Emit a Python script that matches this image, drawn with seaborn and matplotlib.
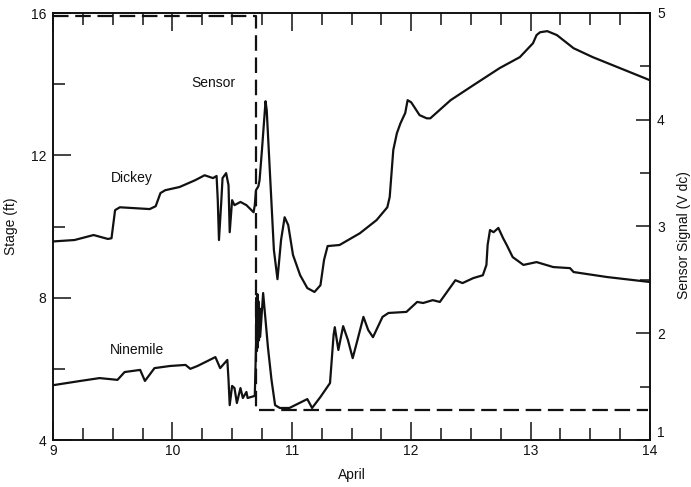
import matplotlib
matplotlib.use("Agg")
import matplotlib.pyplot as plt
import seaborn as sns
import pandas as pd
from matplotlib.ticker import MultipleLocator

sns.set_style("ticks")
plt.rcParams['font.family'] = ['Liberation Sans', 'DejaVu Sans']

# ---- data ----
dickey_day = [9.00, 9.18, 9.34, 9.46, 9.49, 9.52, 9.56, 9.81, 9.86, 9.90, 9.94, 10.06, 10.19,
              10.27, 10.34, 10.37, 10.38, 10.39, 10.41, 10.42, 10.45, 10.47, 10.48, 10.50, 10.52,
              10.57, 10.62, 10.68, 10.69, 10.70, 10.72, 10.73, 10.75, 10.78, 10.79, 10.82, 10.85,
              10.88, 10.91, 10.94, 10.97, 11.01, 11.07, 11.13, 11.19, 11.24, 11.27, 11.30, 11.40,
              11.57, 11.71, 11.80, 11.82, 11.85, 11.88, 11.91, 11.95, 11.97, 12.00, 12.07, 12.13,
              12.16, 12.33, 12.52, 12.74, 12.91, 13.02, 13.05, 13.08, 13.14, 13.22, 13.36, 13.52,
              14.00]
dickey_stage = [9.58, 9.62, 9.76, 9.65, 9.67, 10.46, 10.54, 10.49, 10.57, 10.94, 11.02, 11.11, 11.30,
                11.44, 11.36, 11.42, 10.74, 9.62, 10.74, 11.36, 11.50, 11.16, 9.84, 10.74, 10.60,
                10.69, 10.60, 10.40, 10.60, 11.02, 11.13, 11.30, 12.15, 13.52, 13.27, 11.30, 9.34,
                8.52, 9.62, 10.26, 10.04, 9.20, 8.63, 8.27, 8.16, 8.35, 9.06, 9.45, 9.48,
                9.81, 10.18, 10.54, 10.83, 12.15, 12.62, 12.90, 13.19, 13.55, 13.49, 13.13, 13.04,
                13.04, 13.55, 13.97, 14.45, 14.76, 15.15, 15.38, 15.46, 15.49, 15.38, 15.01, 14.76,
                14.11]

ninemile_day = [9.00, 9.23, 9.39, 9.54, 9.60, 9.73, 9.77, 9.85, 9.98, 10.11, 10.15, 10.21, 10.36,
                10.40, 10.46, 10.47, 10.48, 10.50, 10.52, 10.54, 10.57, 10.59, 10.62, 10.63, 10.69,
                10.700, 10.704, 10.708, 10.712, 10.716, 10.720, 10.725, 10.730, 10.735, 10.76, 10.80,
                10.83, 10.86, 10.90, 10.98, 11.13, 11.17, 11.24, 11.32, 11.35, 11.36, 11.39, 11.43,
                11.47, 11.51, 11.55, 11.60, 11.64, 11.68, 11.76, 11.81, 11.96, 12.05, 12.10, 12.18,
                12.24, 12.37, 12.43, 12.52, 12.60, 12.63, 12.64, 12.66, 12.69, 12.73, 12.77, 12.80,
                12.85, 12.94, 13.05, 13.19, 13.33, 13.36, 13.64, 14.00]
ninemile_stage = [5.54, 5.66, 5.74, 5.69, 5.91, 5.97, 5.66, 6.02, 6.08, 6.11, 6.00, 6.08, 6.33,
                  6.02, 6.25, 5.69, 4.98, 5.52, 5.46, 5.04, 5.46, 5.18, 5.35, 5.18, 5.24,
                  6.60, 8.00, 6.50, 8.10, 6.60, 7.90, 6.80, 7.70, 6.90, 8.13, 6.61,
                  5.69, 4.98, 4.90, 4.90, 5.15, 4.90, 5.21, 5.60, 6.95, 7.17, 6.53, 7.20,
                  6.81, 6.30, 6.81, 7.46, 7.09, 6.89, 7.46, 7.57, 7.60, 7.88, 7.85, 7.93,
                  7.88, 8.49, 8.41, 8.55, 8.63, 8.92, 9.48, 9.90, 9.84, 9.96, 9.67, 9.48,
                  9.14, 8.92, 9.00, 8.86, 8.83, 8.72, 8.58, 8.44]

sensor_day = [9.00, 10.70, 10.70, 13.98]
sensor_volt = [4.97, 4.97, 1.28, 1.28]

x_ticks = [9, 10, 11, 12, 13, 14]
stage_ticks = [4, 8, 12, 16]
volt_ticks = [1, 2, 3, 4, 5]

# ---- figure ----
fig = plt.figure(figsize=(6.91, 4.87), dpi=100)
ax = fig.add_axes([53 / 691, 47 / 487, 597 / 691, 427 / 487])
ax2 = ax.twinx()

ink = "#111111"
sns.lineplot(x=dickey_day, y=dickey_stage, ax=ax, color=ink, lw=1.6,
             estimator=None, sort=False)
sns.lineplot(x=ninemile_day, y=ninemile_stage, ax=ax, color=ink, lw=1.6,
             estimator=None, sort=False)
sns.lineplot(x=sensor_day, y=sensor_volt, ax=ax2, color=ink, lw=1.6,
             estimator=None, sort=False)
for ln in ax2.get_lines():
    ln.set_dashes((7, 3))

ax.set_xlim(9, 14)
ax.set_ylim(4, 16)
ax2.set_ylim(1, 5)

ax.set_xticks(x_ticks)
ax.set_xticklabels([str(t) for t in x_ticks])
ax.xaxis.set_minor_locator(MultipleLocator(0.25))
ax.set_yticks(stage_ticks)
ax.set_yticklabels([str(t) for t in stage_ticks])
ax.yaxis.set_minor_locator(MultipleLocator(2))
ax2.set_yticks(volt_ticks)
ax2.set_yticklabels([str(t) for t in volt_ticks])
ax2.yaxis.set_minor_locator(MultipleLocator(0.5))

ax.tick_params(axis='x', which='both', direction='in', top=True, bottom=True,
               labelsize=10, pad=3, colors=ink, width=1.1)
ax.tick_params(axis='x', which='major', length=13)
ax.tick_params(axis='x', which='minor', length=8.5)
ax.tick_params(axis='y', which='both', direction='in', left=True, right=False,
               labelsize=10, pad=5, colors=ink, width=1.1)
ax.tick_params(axis='y', which='major', length=13)
ax.tick_params(axis='y', which='minor', length=8.5)
ax2.tick_params(axis='y', which='both', direction='in', right=True, left=False,
                labelsize=10, pad=5, colors=ink, width=1.1)
ax2.tick_params(axis='y', which='major', length=10)
ax2.tick_params(axis='y', which='minor', length=7)
# lift the lowest right-hand label a touch, as in the reference
ax2.get_yticklabels()[0].set_va('bottom')

for a in (ax, ax2):
    for s in a.spines.values():
        s.set_visible(True)
        s.set_color(ink)
        s.set_linewidth(1.2)

ax.set_xlabel("April", fontsize=10, color=ink)
ax.set_ylabel("Stage (ft)", fontsize=10, color=ink)
ax2.set_ylabel("Sensor Signal (V dc)", fontsize=10, color=ink, rotation=90)
ax.xaxis.set_label_coords(0.5, -0.066)
ax.yaxis.set_label_coords(-0.059, 0.5)
ax2.yaxis.set_label_coords(1.045, 0.48)

ax.text(10.34, 14.03, "Sensor", fontsize=10, ha='center', va='center', color=ink)
ax.text(9.66, 11.36, "Dickey", fontsize=10, ha='center', va='center', color=ink)
ax.text(9.70, 6.53, "Ninemile", fontsize=10, ha='center', va='center', color=ink)

fig.savefig("out.png", dpi=100)
